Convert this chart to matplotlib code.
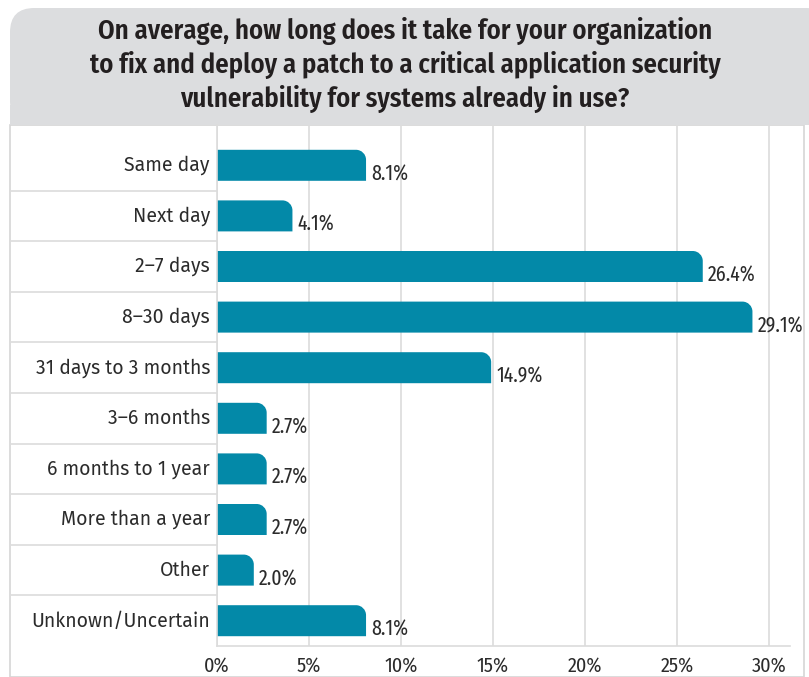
import matplotlib
matplotlib.use("Agg")
import logging
logging.getLogger("matplotlib.font_manager").setLevel(logging.ERROR)
import matplotlib.pyplot as plt
from matplotlib.path import Path
from matplotlib.patches import PathPatch, FancyBboxPatch, Rectangle
from matplotlib.lines import Line2D

categories = ["Same day", "Next day", "2\u20137 days", "8\u201330 days", "31 days to 3 months",
              "3\u20136 months", "6 months to 1 year", "More than a year", "Other", "Unknown/Uncertain"]
values = [8.1, 4.1, 26.4, 29.1, 14.9, 2.7, 2.7, 2.7, 2.0, 8.1]
xticks = [0, 5, 10, 15, 20, 25, 30]
xtick_labels = ["0%", "5%", "10%", "15%", "20%", "25%", "30%"]
title = ("On average, how long does it take for your organization\n"
         "to fix and deploy a patch to a critical application security\n"
         "vulnerability for systems already in use?")

W, H = 809, 677
BAR = "#0389a8"
GRID = "#dcdcdc"
TXT = "#2b2b2b"
TITLEF = ["Fira Sans Condensed", "Barlow Semi Condensed", "DejaVu Sans"]
NARROW = ["Fira Sans Condensed", "Barlow Semi Condensed", "DejaVu Sans"]
XNARROW = ["Fira Sans Extra Condensed", "Barlow Condensed", "DejaVu Sans"]
REG = ["Fira Sans", "Open Sans", "DejaVu Sans"]

fig = plt.figure(figsize=(W / 100, H / 100), dpi=100)

def fx(px):
    return px / W

def fy(py):
    return 1 - py / H

# header and panel
fig.patches.append(Rectangle((fx(10), fy(677)), fx(794), fy(125) - fy(677),
                             transform=fig.transFigure, facecolor="white",
                             edgecolor="#d6d6d6", lw=1.2, zorder=-3))
fig.patches.append(FancyBboxPatch((fx(10), fy(125)), fx(820), fy(8) - fy(125),
                                  boxstyle="round,pad=0,rounding_size=0.03",
                                  transform=fig.transFigure, facecolor="#dcdddf",
                                  edgecolor="none", zorder=-2, mutation_aspect=W / H))
fig.patches.append(Rectangle((fx(10), fy(125)), fx(820), 0.03,
                             transform=fig.transFigure, facecolor="#dcdddf",
                             edgecolor="none", zorder=-2))
fig.text(fx(405), fy(65), title, ha="center", va="center", fontsize=19.2,
         fontweight="semibold", family=TITLEF, color="#231f20", linespacing=1.25, zorder=3)

# axes
top_px, bot_px = 125, 646
row_px = (646 - 140) / 10
n = len(categories)
ax_left, ax_right = 217, 790
ax = fig.add_axes([fx(ax_left), fy(bot_px), fx(ax_right - ax_left), fy(top_px) - fy(bot_px)])
ax.set_facecolor("none")
top_extra = (140 - top_px) / row_px
ax.set_ylim(n - 0.5, -0.5 - top_extra)
px_per_x = 552 / 30
xmax = (ax_right - ax_left) / px_per_x
ax.set_xlim(0, xmax)

for t in xticks:
    ax.axvline(t, color=GRID, lw=1.2, zorder=0)
for s in ["top", "right", "left"]:
    ax.spines[s].set_visible(False)
ax.spines["bottom"].set_color(GRID)
ax.spines["bottom"].set_linewidth(1.2)
ax.set_xticks(xticks)
ax.set_xticklabels(xtick_labels, fontsize=14.5, family=NARROW, color=TXT)
ax.tick_params(axis="x", length=0, pad=7)
ax.set_yticks([])

bar_h = 31 / row_px
r = 10
rx = r / px_per_x
ry = r / row_px
k = 0.5523
for i, v in enumerate(values):
    y0 = i - bar_h / 2
    y1 = i + bar_h / 2
    rxx = min(rx, v)
    verts = [(0, y0), (v - rxx, y0), (v - rxx + k * rxx, y0), (v, y0 + ry - k * ry),
             (v, y0 + ry), (v, y1), (0, y1), (0, y0)]
    codes = [Path.MOVETO, Path.LINETO, Path.CURVE4, Path.CURVE4, Path.CURVE4,
             Path.LINETO, Path.LINETO, Path.CLOSEPOLY]
    ax.add_patch(PathPatch(Path(verts, codes), facecolor=BAR, edgecolor="none", zorder=2))
    ax.text(v + 5 / px_per_x, y1 - 0.5 / row_px, f"{v:.1f}%", ha="left", va="baseline",
            fontsize=15.5, family=XNARROW, color=TXT, zorder=3)

# category labels and separators
for i, c in enumerate(categories):
    yc = 140 + row_px * (i + 0.5)
    fig.text(fx(210), fy(yc), c, ha="right", va="center", fontsize=14,
             family=REG, fontweight="normal", color=TXT)
    if i > 0:
        yb = 140 + row_px * i
        fig.add_artist(Line2D([fx(10), fx(217)], [fy(yb), fy(yb)], color=GRID, lw=1.2,
                              transform=fig.transFigure))
fig.add_artist(Line2D([fx(217), fx(217)], [fy(top_px), fy(bot_px)], color=GRID, lw=1.2,
                      transform=fig.transFigure))

fig.savefig("out.png", dpi=100)
